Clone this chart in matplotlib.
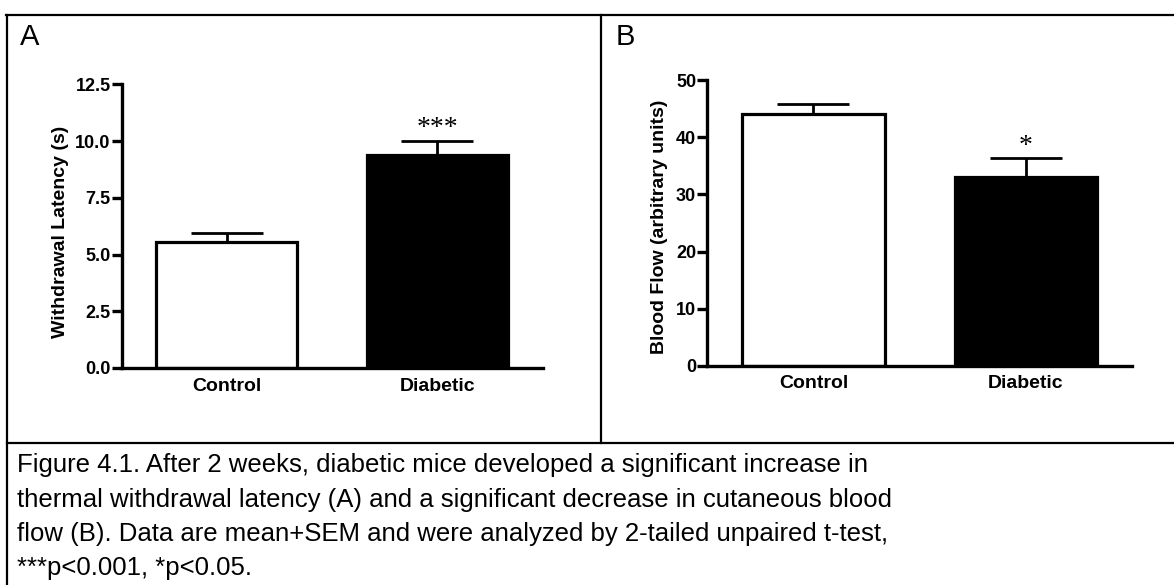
import numpy as np
import matplotlib
matplotlib.use("Agg")
import matplotlib.pyplot as plt
from matplotlib.lines import Line2D

plt.rcParams['font.family'] = ['Liberation Sans', 'DejaVu Sans']

# Data
groups = ['Control', 'Diabetic']
latency_mean = [5.55, 9.4]
latency_sem = [0.42, 0.6]
flow_mean = [44.1, 33.0]
flow_sem = [1.8, 3.3]
latency_ticks = [0.0, 2.5, 5.0, 7.5, 10.0, 12.5]
flow_ticks = [0, 10, 20, 30, 40, 50]
stars = ['***', '*']

caption_lines = [
    "Figure 4.1. After 2 weeks, diabetic mice developed a significant increase in",
    "thermal withdrawal latency (A) and a significant decrease in cutaneous blood",
    "flow (B). Data are mean+SEM and were analyzed by 2-tailed unpaired t-test,",
    "***p<0.001, *p<0.05.",
]

W, H = 1174, 585
fig = plt.figure(figsize=(W / 100, H / 100), dpi=100)


def px(x0, y0, x1, y1):
    # pixel box (top-left origin) -> figure fraction rect
    return [x0 / W, 1 - y1 / H, (x1 - x0) / W, (y1 - y0) / H]


def bar_panel(ax, means, sems, ticks, fmt, ylabel, star, label_x, label_y):
    x = np.arange(len(groups))
    ax.bar(x, means, width=0.67, color=['white', 'black'], edgecolor='black',
           linewidth=2.3, zorder=2)
    ax.errorbar(x, means, yerr=[np.zeros(len(means)), sems], fmt='none',
                ecolor='black', elinewidth=2.0, capsize=26, capthick=2.0, zorder=3)
    top = means[1] + sems[1]
    ax.annotate(star, (x[1], top), xytext=(0, 4), textcoords='offset points',
                ha='center', va='baseline', fontsize=20,
                family=['Liberation Serif', 'DejaVu Serif'])
    ax.set_xlim(-0.5, 1.5)
    ax.set_ylim(ticks[0], ticks[-1])
    ax.set_yticks(ticks)
    ax.set_yticklabels([fmt.format(t) for t in ticks], fontsize=13, fontweight='bold')
    ax.set_xticks(x)
    ax.set_xticklabels(groups, fontsize=14, fontweight='bold')
    ax.tick_params(axis='x', length=0, pad=7)
    ax.tick_params(axis='y', length=7, width=2.4, pad=1, direction='out')
    for s in ['top', 'right']:
        ax.spines[s].set_visible(False)
    for s in ['left', 'bottom']:
        ax.spines[s].set_linewidth(2.4)
    ax.set_ylabel(ylabel, fontsize=14, fontweight='bold')
    ax.yaxis.set_label_coords(label_x, label_y)
    ax.patch.set_alpha(0)


axA = fig.add_axes(px(121.7, 84.3, 542.7, 368))
bar_panel(axA, latency_mean, latency_sem, latency_ticks, '{:.1f}',
          'Withdrawal Latency (s)', stars[0], -0.125, 0.48)

axB = fig.add_axes(px(707.3, 80.3, 1132, 365.7))
bar_panel(axB, flow_mean, flow_sem, flow_ticks, '{:d}',
          'Blood Flow (arbitrary units)', stars[1], -0.0925, 0.487)

# table frame around the two panels and the caption
frame = [
    ((6, W), (15, 15)),
    ((7, 7), (15, H)),
    ((600.5, 600.5), (15, 443)),
    ((7, W), (443, 443)),
]
for xs, ys in frame:
    fig.add_artist(Line2D([v / W for v in xs], [1 - v / H for v in ys],
                          color='black', linewidth=1.6))

fig.text(20 / W, 1 - 45 / H, 'A', fontsize=21, va='baseline')
fig.text(616 / W, 1 - 45 / H, 'B', fontsize=21, va='baseline')

for i, line in enumerate(caption_lines):
    fig.text(17 / W, 1 - (472 + 34.5 * i) / H, line, fontsize=18.5, va='baseline')

fig.savefig('out.png', dpi=100)
